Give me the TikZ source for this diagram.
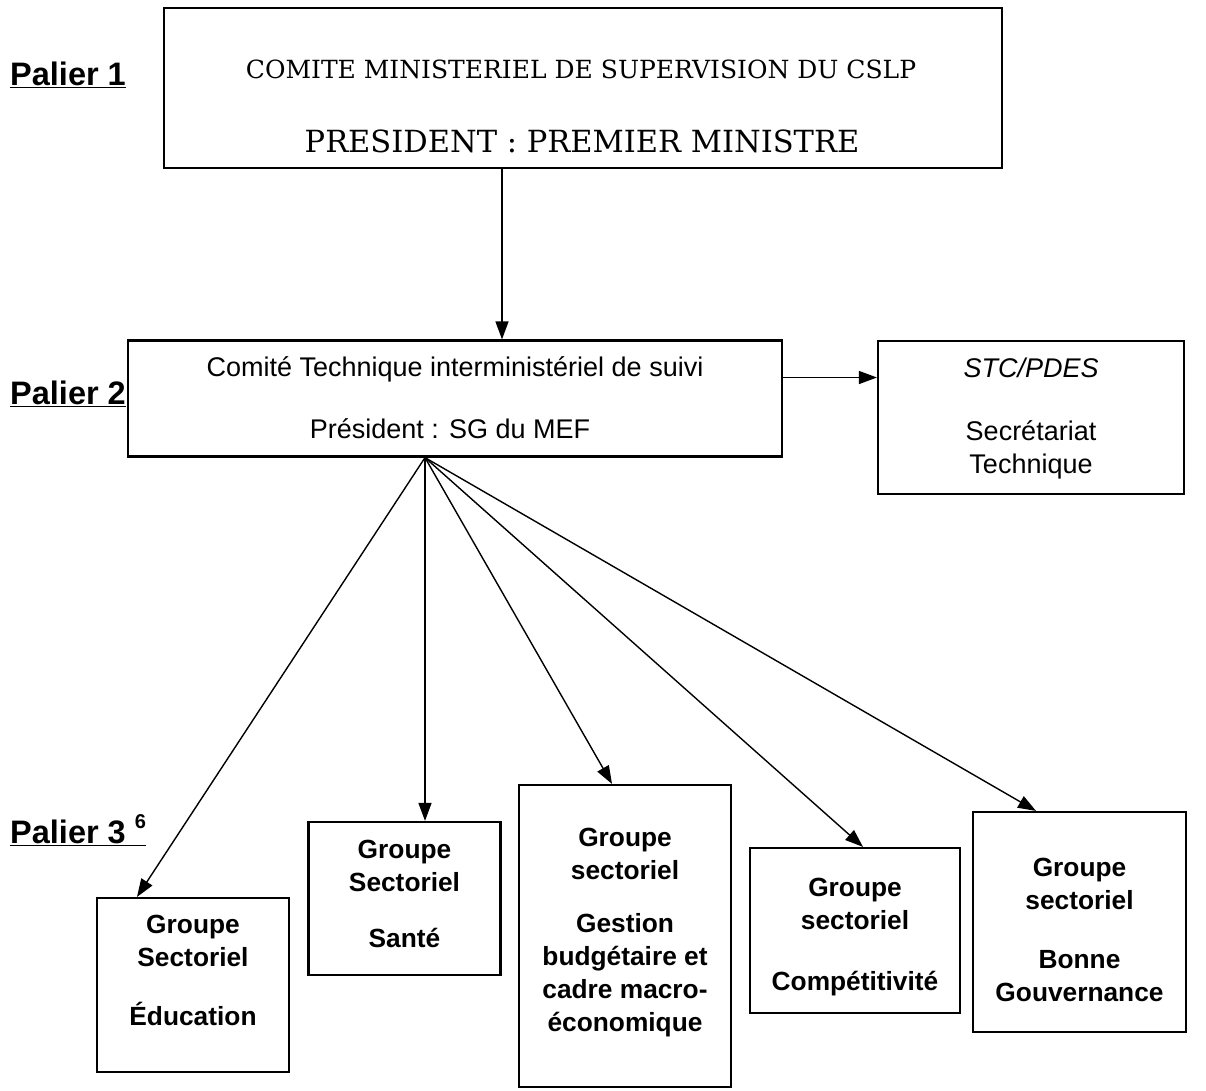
\documentclass[tikz,border=0pt]{standalone}
\usepackage{fontspec}
\setmainfont{Liberation Sans}
\newfontfamily\titleserif{DejaVu Serif}
\usetikzlibrary{arrows.meta}
\begin{document}
\begin{tikzpicture}[x=1pt,y=-1pt,
  box/.style={draw, line width=2.2pt, inner sep=0pt},
  conn/.style={line width=1.4pt, -{Triangle[length=18pt,width=13pt]}},
  grp/.style={font=\bfseries\fontsize{26.3}{33}\selectfont, align=center, inner sep=0pt, anchor=north},
  txt/.style={font=\fontsize{27}{33}\selectfont, align=center, inner sep=0pt},
  pal/.style={font=\bfseries\fontsize{32.5}{38}\selectfont, inner sep=0pt, anchor=base west}]
\useasboundingbox[fill=white] (0,0) rectangle (1206,1090);

% boxes
\node[box, minimum width=838pt, minimum height=160pt] (top) at (583,88) {};
\node[box, minimum width=654pt, minimum height=116pt] (mid) at (455,398.5) {};
\node[box, minimum width=306pt, minimum height=153pt] (stc) at (1031,417.5) {};
\node[box, minimum width=192pt, minimum height=174pt] (edu) at (193,985) {};
\node[box, minimum width=192pt, minimum height=153pt] (san) at (404.5,898.5) {};
\node[box, minimum width=212pt, minimum height=302pt] (ges) at (625,936) {};
\node[box, minimum width=210pt, minimum height=165pt] (com) at (855,930.5) {};
\node[box, minimum width=213pt, minimum height=220pt] (bon) at (1079.5,922) {};

% palier labels
\node[pal] (p1) at (10,85) {\underline{Palier 1}};
\node[pal] (p2) at (10,404) {\underline{Palier 2}};
\node[pal] (p3) at (10,843) {\underline{Palier 3 \raisebox{0.45em}{\fontsize{20}{21}\selectfont 6}}};

% texts
\node[inner sep=0pt, anchor=base, font=\titleserif\fontsize{25}{30}\selectfont] (t1) at (581,78) {COMITE MINISTERIEL DE SUPERVISION DU CSLP};
\node[inner sep=0pt, anchor=base, font=\titleserif\fontsize{30.5}{36}\selectfont] (t2) at (582,152) {PRESIDENT : PREMIER MINISTRE};

\node[txt, anchor=base] (m1) at (455,376) {Comité Technique interministériel de suivi};
\node[txt, anchor=base] (m2) at (450,438) {Président : SG du MEF};

\node[txt, anchor=base] (s1) at (1031,377) {\itshape STC/PDES};
\node[txt, anchor=north] (s2) at (1031,420) {Secrétariat\\Technique};

\node[grp] (e1) at (193,915) {Groupe\\Sectoriel\\[26pt]Éducation};
\node[grp] (a1) at (404.5,840) {Groupe\\Sectoriel\\[23pt]Santé};
\node[grp] (g1) at (625,828) {Groupe\\sectoriel\\[20pt]Gestion\\budgétaire et\\cadre macro-\\économique};
\node[grp] (c1) at (855,878) {Groupe\\sectoriel\\[28pt]Compétitivité};
\node[grp] (b1) at (1079.5,858) {Groupe\\sectoriel\\[26pt]Bonne\\Gouvernance};

% connectors
\draw[conn] ([xshift=-81pt]top.south) -- ([xshift=47pt]mid.north);
\draw[conn] ([yshift=21pt]mid.east) coordinate (h1) -- (stc.west |- h1);
\coordinate (fan) at ([xshift=-30pt]mid.south);
\draw[conn] (fan) -- ([xshift=-56pt]edu.north);
\draw[conn] (fan) -- ([xshift=20.5pt]san.north);
\draw[conn] (fan) -- ([xshift=-13pt]ges.north);
\draw[conn] (fan) -- ([xshift=8pt]com.north);
\draw[conn] (fan) -- ([xshift=-43.5pt]bon.north);
\end{tikzpicture}
\end{document}
